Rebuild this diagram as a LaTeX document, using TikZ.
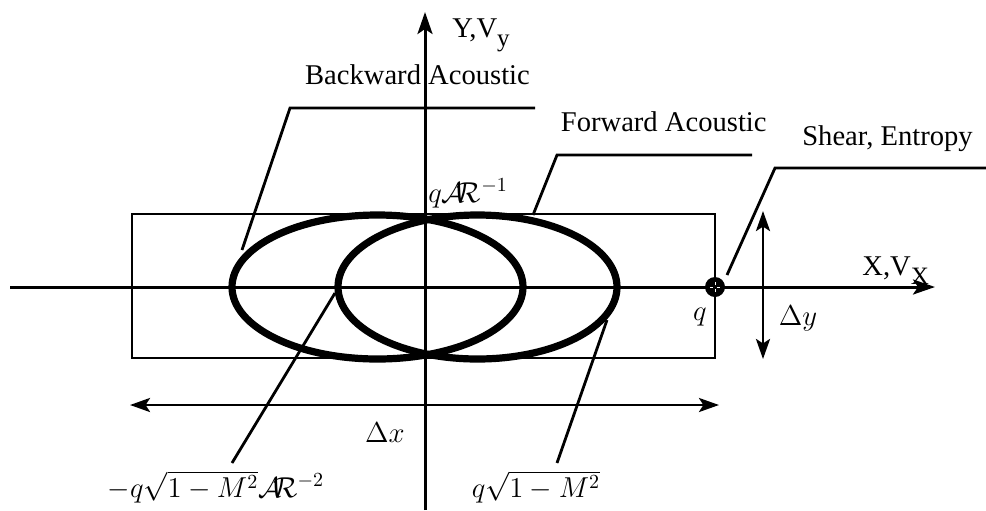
\documentclass[tikz,border=0pt]{standalone}
\usepackage[no-math]{fontspec}
\setmainfont{Liberation Serif}
\usetikzlibrary{arrows.meta}
\tikzset{
  txt/.style={inner sep=0pt, font=\fontsize{14.3}{16}\selectfont},
  mth/.style={inner sep=0pt, font=\fontsize{14}{16}\selectfont},
  thin line/.style={line width=1.2pt},
  axis/.style={line width=1.5pt, -{Stealth[length=11pt,width=7.5pt,inset=2.5pt]}},
  dim/.style={line width=1.4pt, {Stealth[length=10pt,width=7pt,inset=2.2pt]}-{Stealth[length=10pt,width=7pt,inset=2.2pt]}},
  leader/.style={line width=1.4pt},
  wave/.style={line width=3.6pt},
}
\begin{document}
\begin{tikzpicture}[x=0.5pt,y=-0.5pt]
\useasboundingbox (0,0) rectangle (986,510);
% rectangle
\draw[thin line] (132,214) rectangle (715,358);
% ellipses
\draw[wave] (377.5,287) ellipse [x radius=72.75pt, y radius=36pt];
\draw[wave] (477.5,287) ellipse [x radius=69.75pt, y radius=36pt];
% axes
\coordinate (xs) at (10,287);
\coordinate (xe) at (935,287);
\coordinate (ys) at (425,510);
\coordinate (ye) at (425,12);
\draw[axis] (xs) -- (xe);
\draw[axis] (ys) -- (ye);
% source point
\coordinate (src) at (715,287);
\fill (src) circle [radius=5pt];
\draw[white, line width=0.5pt] ([xshift=-2.6pt]src) -- ([xshift=-0.8pt]src) ([xshift=0.8pt]src) -- ([xshift=2.6pt]src)
  ([yshift=-2.6pt]src) -- ([yshift=-0.8pt]src) ([yshift=0.8pt]src) -- ([yshift=2.6pt]src);
% dimension arrows
\coordinate (dxl) at (130,405);
\coordinate (dxr) at (719,405);
\draw[dim] (dxr) -- (dxl);
\coordinate (dyt) at (763,211);
\coordinate (dyb) at (763,359);
\draw[dim] (dyt) -- (dyb);
% labels
\node[txt, anchor=base] (ba) at (417.5,84) {Backward Acoustic};
\node[txt, anchor=base east] (fa) at (767,131) {Forward Acoustic};
\node[txt, anchor=base] (se) at (887.5,145) {Shear, Entropy};
\node[txt, anchor=base west] (ylab) at (452,37) {Y,V\raisebox{-0.32em}{\fontsize{12.5}{12}\selectfont y}};
\node[txt, anchor=base west] (xlab) at (862,275) {X,V\raisebox{-0.32em}{\fontsize{12.5}{12}\selectfont X}};
\node[mth] (qlab) at (700,317) {$q$};
\node[mth] (dylab) at (798,318) {$\Delta y$};
\node[mth] (dxlab) at (385,433) {$\Delta x$};
\node[mth, anchor=base west] (qar) at (428,202) {$q\mathcal{A}\mkern-5mu\mathcal{R}^{-1}$};
\node[mth, anchor=base] (lab1) at (216,497) {$-q\sqrt{1-M^2}\mathcal{A}\mkern-5mu\mathcal{R}^{-2}$};
\node[mth, anchor=base] (lab2) at (536,497) {$q\sqrt{1-M^2}$};
% leaders
\coordinate (b1) at (242,250); \coordinate (b2) at (290,108); \coordinate (b3) at (535,108);
\draw[leader] (b1) -- (b2) -- (b3);
\coordinate (f1) at (533,215); \coordinate (f2) at (557,155); \coordinate (f3) at (752,155);
\draw[leader] (f1) -- (f2) -- (f3);
\coordinate (s1) at (727,275); \coordinate (s2) at (775,168); \coordinate (s3) at (986,168);
\draw[leader] (s1) -- (s2) -- (s3);
\coordinate (l1a) at (232,463); \coordinate (l1b) at (335,293);
\draw[leader] (l1a) -- (l1b);
\coordinate (l2a) at (557,463); \coordinate (l2b) at (607,320);
\draw[leader] (l2a) -- (l2b);
\end{tikzpicture}
\end{document}
